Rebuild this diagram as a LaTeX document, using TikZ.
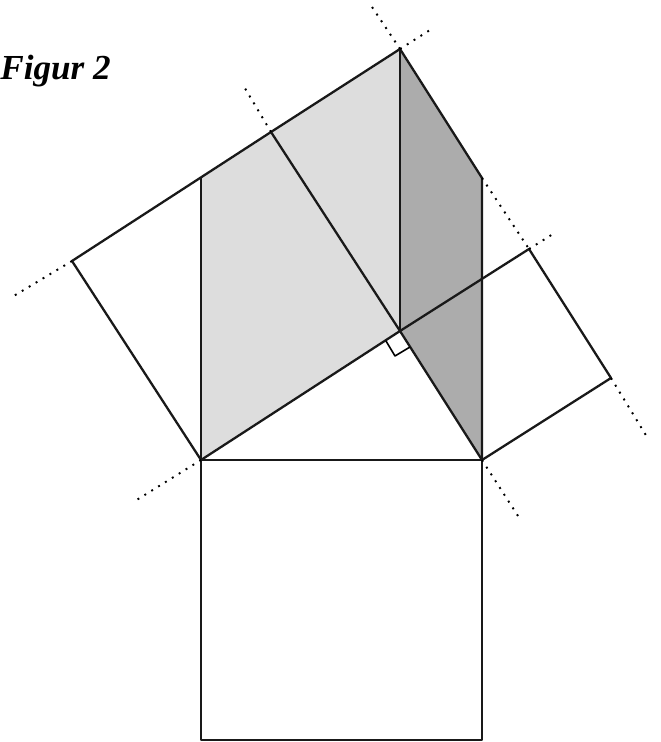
\documentclass[tikz,border=0pt]{standalone}
\usepackage{fontspec}
\setmainfont{Liberation Serif}

\definecolor{lightshade}{RGB}{221,221,221}
\definecolor{darkshade}{RGB}{172,172,172}

\begin{document}
\begin{tikzpicture}[x=0.02cm, y=-0.02cm, line join=round,
    edge/.style={line width=1.3pt, black!90},
    ext/.style={line width=1.1pt, dash pattern=on 1.1pt off 3.5pt}]
    \useasboundingbox (0,0) rectangle (660,742);

    % triangle
    \coordinate (A) at (201,460);
    \coordinate (B) at (482,460);
    \coordinate (C) at (400,331);

    % square on AC
    \coordinate (A1) at (72,261);
    \coordinate (C1) at (271,132);
    % square on CB
    \coordinate (C2) at (529,249);
    \coordinate (B2) at (611,378);
    % square on AB
    \coordinate (A3) at (201,740);
    \coordinate (B3) at (482,740);

    % sheared corners
    \coordinate (P) at (400,49);
    \coordinate (D) at (201,178);
    \coordinate (E) at (482,178);

    % ends of the dotted lines
    \coordinate (p1) at (372,7);
    \coordinate (p2) at (430,30);
    \coordinate (c2) at (553,234);
    \coordinate (b2) at (647,437);
    \coordinate (a0) at (135,501);
    \coordinate (a1) at (12,297);
    \coordinate (c1) at (243,85);
    \coordinate (b0) at (518,516);

    \fill[lightshade] (A) -- (D) -- (P) -- (C) -- cycle;
    \fill[darkshade] (C) -- (P) -- (E) -- (B) -- cycle;

    \draw[edge] (A) -- (C) -- (C1) -- (A1) -- cycle;
    \draw[edge] (C) -- (B) -- (B2) -- (C2) -- cycle;
    \draw[edge] (A) -- (B) -- (B3) -- (A3) -- cycle;
    \draw[edge] (C1) -- (P) -- (E) -- (B);
    \draw[edge] (A) -- (D);
    \draw[edge] (P) -- (C);

    % right angle
    \draw[line width=0.9pt] (386,341) -- (395,356) -- (410,347);

    \draw[ext] (P) -- (p1);
    \draw[ext] (P) -- (p2);
    \draw[ext] (E) -- (C2);
    \draw[ext] (C2) -- (c2);
    \draw[ext] (B2) -- (b2);
    \draw[ext] (A) -- (a0);
    \draw[ext] (A1) -- (a1);
    \draw[ext] (C1) -- (c1);
    \draw[ext] (B) -- (b0);

    \node[anchor=base west, inner sep=0pt, font=\fontsize{20}{24}\selectfont\bfseries\itshape]
        (title) at (0,80) {Figur 2};
\end{tikzpicture}
\end{document}
